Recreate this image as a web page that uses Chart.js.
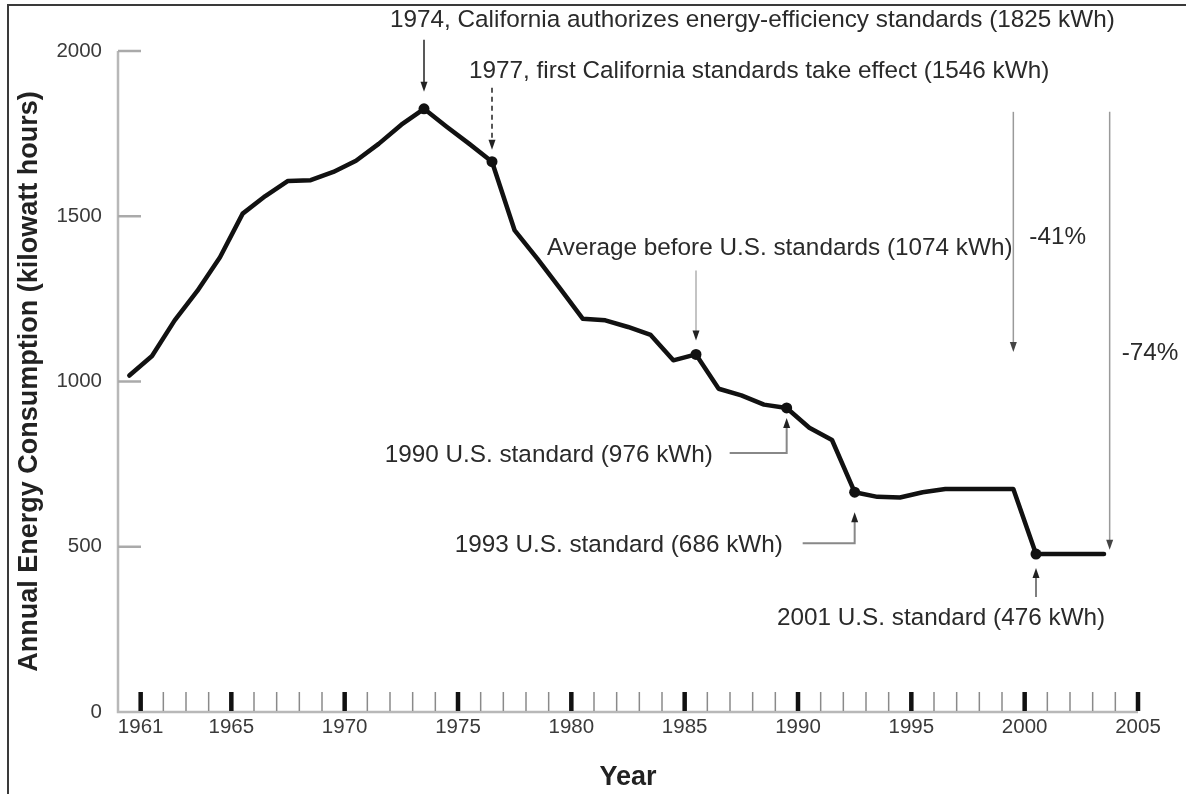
<!DOCTYPE html>
<html>
<head>
<meta charset="utf-8">
<script src="https://cdn.jsdelivr.net/npm/chart.js@4.4.1/dist/chart.umd.min.js"></script>
<style>
  html, body { margin: 0; padding: 0; background: #fff; }
</style>
</head>
<body>
<canvas id="fridgeChart" width="1186" height="794"></canvas>
<script>
// refrigerator use per unit
const years = [1961, 1962, 1963, 1964, 1965, 1966, 1967, 1968, 1969, 1970,
  1971, 1972, 1973, 1974, 1975, 1976, 1977, 1978, 1979, 1980,
  1981, 1982, 1983, 1984, 1985, 1986, 1987, 1988, 1989, 1990,
  1991, 1992, 1993, 1994, 1995, 1996, 1997, 1998, 1999, 2000,
  2001, 2002, 2003, 2004];
const consumption = [1018, 1077, 1185, 1274, 1376, 1508, 1561, 1607, 1609, 1634,
  1668, 1719, 1777, 1825, 1771, 1719, 1665, 1457, 1372, 1282,
  1190, 1185, 1165, 1141, 1064, 1082, 978, 958, 930, 920,
  860, 823, 665, 651, 649, 665, 675, 675, 675, 675,
  478, 478, 478, 478];

const yTicks = [0, 500, 1000, 1500, 2000];
const labelledYears = [1961, 1965, 1970, 1975, 1980, 1985, 1990, 1995, 2000, 2005];

const noteYears = [1974, 1977, 1986, 1990, 1993, 2001];
const noteTexts = [
  '1974, California authorizes energy-efficiency standards (1825 kWh)',
  '1977, first California standards take effect (1546 kWh)',
  'Average before U.S. standards (1074 kWh)',
  '1990 U.S. standard (976 kWh)',
  '1993 U.S. standard (686 kWh)',
  '2001 U.S. standard (476 kWh)'
];

const dropTexts = ['-41%', '-74%'];
const dropYears = [2000, 2004.25];
const dropFrom = [1825, 1825];
const dropTo = [1074, 476];

// where each note sits relative to its marker (px)
const noteLayout = [
  { tx: -34, ty: -89, kind: 'down', from: -69, to: -17, color: '#222' },
  { tx: -23, ty: -90, kind: 'down', from: -74, to: -12, color: '#222', dash: [5, 4] },
  { tx: -149, ty: -106, kind: 'down', from: -84, to: -14, color: '#b0b0b0' },
  { tx: -402, ty: 47, kind: 'elbow', hx: -57, hy: 45, to: 10, color: '#888' },
  { tx: -400, ty: 53, kind: 'elbow', hx: -52, hy: 51, to: 20, color: '#888' },
  { tx: -259, ty: 64, kind: 'up', from: 43, to: 14, color: '#555' }
];
const dropLayout = [
  { tx: 16, ty: 128 },
  { tx: 12, ty: 244 }
];

const sans = "'Liberation Sans', Arial, Helvetica, sans-serif";

const minorYears = Array.from({ length: 45 }, (_, i) => 1961 + i);

function arrowHead(ctx, x, y, dir) {
  ctx.beginPath();
  ctx.moveTo(x, y);
  ctx.lineTo(x - 3.5, y - 10 * dir);
  ctx.lineTo(x + 3.5, y - 10 * dir);
  ctx.closePath();
  ctx.fill();
}

const framePlugin = {
  id: 'frame',
  beforeDraw(chart) {
    const ctx = chart.ctx;
    ctx.save();
    ctx.strokeStyle = '#3a3a3a';
    ctx.lineWidth = 2;
    ctx.beginPath();
    ctx.moveTo(8, 794);
    ctx.lineTo(8, 5);
    ctx.lineTo(1186, 5);
    ctx.stroke();
    ctx.restore();
  },
  afterDatasetsDraw(chart) {
    const ctx = chart.ctx;
    const xs = chart.scales.x, ys = chart.scales.y;
    const area = chart.chartArea;
    ctx.save();
    // axes
    ctx.strokeStyle = '#b8b8b8';
    ctx.lineWidth = 2.5;
    ctx.beginPath();
    ctx.moveTo(area.left, ys.getPixelForValue(2000));
    ctx.lineTo(area.left, area.bottom);
    ctx.lineTo(area.right, area.bottom);
    ctx.stroke();
    // y ticks pointing inward
    ctx.strokeStyle = '#aaa';
    yTicks.filter(v => v > 0).forEach(v => {
      const py = ys.getPixelForValue(v);
      ctx.beginPath();
      ctx.moveTo(area.left, py);
      ctx.lineTo(area.left + 23, py);
      ctx.stroke();
    });
    // x ticks, one per year
    minorYears.forEach(yr => {
      const px = xs.getPixelForValue(yr + 0.5);
      const major = labelledYears.includes(yr);
      ctx.strokeStyle = major ? '#111' : '#8a8a8a';
      ctx.lineWidth = major ? 4.5 : 1.5;
      ctx.beginPath();
      ctx.moveTo(px, area.bottom - 1);
      ctx.lineTo(px, area.bottom - 20);
      ctx.stroke();
    });
    ctx.restore();
  },
  afterDraw(chart) {
    const ctx = chart.ctx;
    const xs = chart.scales.x, ys = chart.scales.y;
    ctx.save();
    ctx.font = '24.3px ' + sans;
    ctx.textBaseline = 'middle';
    ctx.textAlign = 'left';
    noteYears.forEach((yr, i) => {
      const lay = noteLayout[i];
      const mx = xs.getPixelForValue(yr);
      const my = ys.getPixelForValue(consumption[years.indexOf(yr)]);
      ctx.fillStyle = '#2a2a2a';
      ctx.fillText(noteTexts[i], mx + lay.tx, my + lay.ty);
      ctx.strokeStyle = lay.color;
      ctx.fillStyle = '#222';
      ctx.lineWidth = 1.5;
      ctx.setLineDash(lay.dash || []);
      ctx.beginPath();
      if (lay.kind === 'down') {
        ctx.moveTo(mx, my + lay.from);
        ctx.lineTo(mx, my + lay.to - 8);
        ctx.stroke();
        ctx.setLineDash([]);
        arrowHead(ctx, mx, my + lay.to, 1);
      } else if (lay.kind === 'up') {
        ctx.moveTo(mx, my + lay.from);
        ctx.lineTo(mx, my + lay.to + 8);
        ctx.stroke();
        arrowHead(ctx, mx, my + lay.to, -1);
      } else {
        ctx.lineWidth = 2;
        ctx.moveTo(mx + lay.hx, my + lay.hy);
        ctx.lineTo(mx, my + lay.hy);
        ctx.lineTo(mx, my + lay.to + 8);
        ctx.stroke();
        arrowHead(ctx, mx, my + lay.to, -1);
      }
    });
    ctx.setLineDash([]);
    dropYears.forEach((yr, i) => {
      const px = xs.getPixelForValue(yr);
      const top = ys.getPixelForValue(dropFrom[i]);
      const bottom = ys.getPixelForValue(dropTo[i]) - 5;
      ctx.strokeStyle = '#9a9a9a';
      ctx.lineWidth = 1.5;
      ctx.beginPath();
      ctx.moveTo(px, top + 3);
      ctx.lineTo(px, bottom - 8);
      ctx.stroke();
      ctx.fillStyle = '#444';
      arrowHead(ctx, px, bottom, 1);
      ctx.fillStyle = '#2a2a2a';
      ctx.fillText(dropTexts[i], px + dropLayout[i].tx, top + dropLayout[i].ty);
    });
    ctx.restore();
  }
};

new Chart(document.getElementById('fridgeChart').getContext('2d'), {
  type: 'line',
  data: {
    datasets: [{
      data: years.map((yr, i) => ({ x: yr, y: consumption[i] })),
      borderColor: '#111',
      borderWidth: 4.5,
      borderJoinStyle: 'round',
      borderCapStyle: 'round',
      tension: 0,
      pointRadius: c => noteYears.includes(years[c.dataIndex]) ? 5.5 : 0,
      pointBackgroundColor: '#111',
      pointBorderWidth: 0
    }]
  },
  options: {
    responsive: false,
    animation: false,
    devicePixelRatio: 1,
    layout: { padding: { top: 51, right: 48, left: 0, bottom: 0 } },
    plugins: { legend: { display: false }, tooltip: { enabled: false } },
    scales: {
      x: {
        type: 'linear',
        min: 1960.5,
        max: 2005.5,
        afterBuildTicks: s => { s.ticks = minorYears.map(yr => ({ value: yr + 0.5 })); },
        afterFit: s => { s.height = 82; },
        grid: { display: false, drawTicks: false },
        border: { display: false },
        ticks: {
          autoSkip: false,
          maxRotation: 0,
          padding: 3,
          color: '#3a3a3a',
          font: { family: sans, size: 20.5 },
          callback: v => {
            const yr = Math.round(v - 0.5);
            return labelledYears.includes(yr) ? String(yr) : '';
          }
        },
        title: {
          display: true,
          text: 'Year',
          color: '#222',
          padding: { top: 0, bottom: 2.5 },
          font: { family: sans, size: 27, weight: 'bold', lineHeight: 1 }
        }
      },
      y: {
        min: 0,
        max: 2000,
        afterBuildTicks: s => { s.ticks = yTicks.map(v => ({ value: v })); },
        afterFit: s => { s.width = 118; },
        grid: { display: false, drawTicks: false },
        border: { display: false },
        ticks: {
          padding: 16,
          color: '#3a3a3a',
          font: { family: sans, size: 20.5 },
          callback: v => String(v)
        },
        title: {
          display: true,
          text: 'Annual Energy Consumption (kilowatt hours)',
          color: '#222',
          padding: { top: 16.5, bottom: 0 },
          font: { family: sans, size: 27, weight: 'bold', lineHeight: 1 }
        }
      }
    }
  },
  plugins: [framePlugin]
});
</script>
</body>
</html>
